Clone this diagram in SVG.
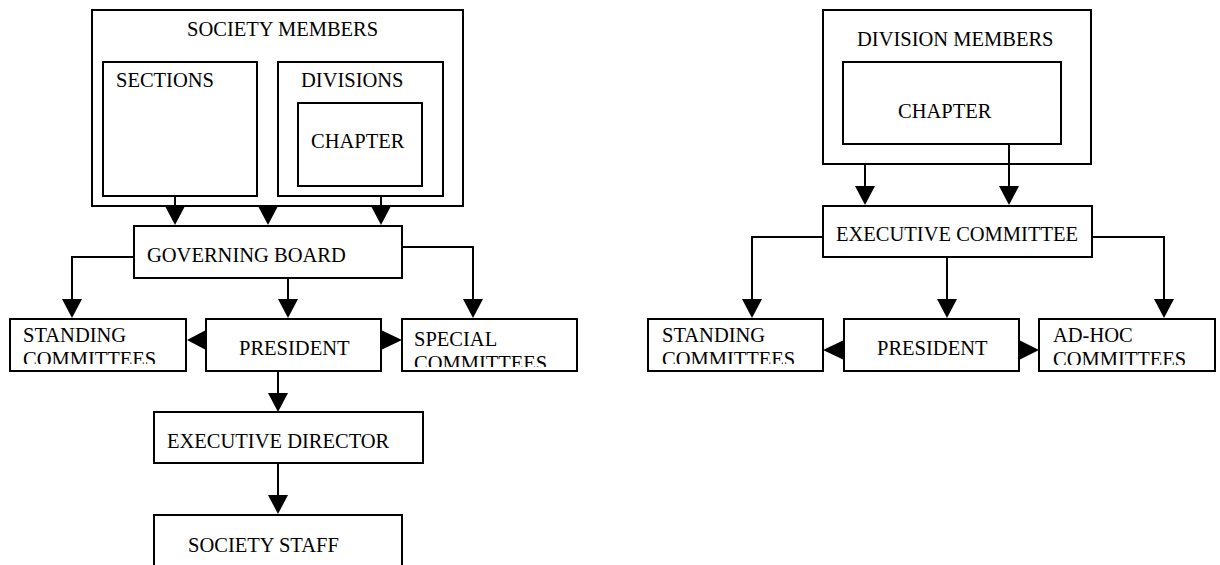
<svg xmlns="http://www.w3.org/2000/svg" width="1220" height="565" viewBox="0 0 1220 565">
<style>
.box{fill:#fff;stroke:#000;stroke-width:2}
.t{font-family:"Liberation Serif","Times New Roman",serif;font-size:20.5px;fill:#000}
.c{fill:none;stroke:#000;stroke-width:2}
.h{fill:#000;stroke:none}
</style>
<defs>
<marker id="ah" viewBox="0 0 19 20" refX="0" refY="10" markerWidth="19" markerHeight="20" markerUnits="userSpaceOnUse" orient="auto">
<path d="M0,0 L19,10 L0,20 z" fill="#000"/>
</marker>
<clipPath id="clipL1"><rect x="10" y="319" width="177" height="45"/></clipPath>
<clipPath id="clipL3"><rect x="402" y="319" width="176" height="48"/></clipPath>
<clipPath id="clipR1"><rect x="648" y="319" width="176" height="45"/></clipPath>
<clipPath id="clipR3"><rect x="1039" y="319" width="177" height="46"/></clipPath>
</defs>

<g id="society-members">
<rect class="box" x="92" y="10" width="371" height="196"/>
<text class="t" x="187" y="36">SOCIETY MEMBERS</text>
</g>
<g id="sections">
<rect class="box" x="103" y="62" width="154" height="134"/>
<text class="t" x="116" y="87">SECTIONS</text>
</g>
<g id="divisions">
<rect class="box" x="278" y="62" width="165" height="134"/>
<text class="t" x="301" y="87">DIVISIONS</text>
</g>
<g id="chapter-left">
<rect class="box" x="298" y="103" width="124" height="83"/>
<text class="t" x="311" y="148">CHAPTER</text>
</g>
<g id="governing-board">
<rect class="box" x="134" y="226" width="268" height="52"/>
<text class="t" x="147" y="262">GOVERNING BOARD</text>
</g>
<g id="standing-left">
<rect class="box" x="10" y="319" width="176" height="52"/>
<g clip-path="url(#clipL1)">
<text class="t" x="23" y="342">STANDING</text>
<text class="t" x="23" y="366">COMMITTEES</text>
</g>
</g>
<g id="president-left">
<rect class="box" x="206" y="319" width="175" height="52"/>
<text class="t" x="239" y="355">PRESIDENT</text>
</g>
<g id="special-committees">
<rect class="box" x="402" y="319" width="175" height="52"/>
<g clip-path="url(#clipL3)">
<text class="t" x="414" y="346">SPECIAL</text>
<text class="t" x="414" y="370">COMMITTEES</text>
</g>
</g>
<g id="executive-director">
<rect class="box" x="154" y="412" width="269" height="51"/>
<text class="t" x="167" y="448">EXECUTIVE DIRECTOR</text>
</g>
<g id="society-staff">
<rect class="box" x="154" y="515" width="248" height="60"/>
<text class="t" x="188" y="552">SOCIETY STAFF</text>
</g>

<g id="division-members">
<rect class="box" x="823" y="10" width="268" height="154"/>
<text class="t" x="857" y="46">DIVISION MEMBERS</text>
</g>
<g id="chapter-right">
<rect class="box" x="843" y="62" width="218" height="82"/>
<text class="t" x="898" y="118">CHAPTER</text>
</g>
<g id="executive-committee">
<rect class="box" x="823" y="206" width="269" height="51"/>
<text class="t" x="836" y="241">EXECUTIVE COMMITTEE</text>
</g>
<g id="standing-right">
<rect class="box" x="648" y="319" width="175" height="52"/>
<g clip-path="url(#clipR1)">
<text class="t" x="662" y="342">STANDING</text>
<text class="t" x="662" y="366">COMMITTEES</text>
</g>
</g>
<g id="president-right">
<rect class="box" x="844" y="319" width="175" height="52"/>
<text class="t" x="877" y="355">PRESIDENT</text>
</g>
<g id="adhoc-committees">
<rect class="box" x="1039" y="319" width="176" height="52"/>
<g clip-path="url(#clipR3)">
<text class="t" x="1053" y="342">AD-HOC</text>
<text class="t" x="1053" y="366">COMMITTEES</text>
</g>
</g>

<g id="connectors">
<path class="c" d="M175,196 V206" marker-end="url(#ah)"/>
<path class="c" d="M268,205 V206" marker-end="url(#ah)"/>
<path class="c" d="M381,196 V206" marker-end="url(#ah)"/>
<path class="c" d="M134,257 H72 V299" marker-end="url(#ah)"/>
<path class="c" d="M288,278 V299" marker-end="url(#ah)"/>
<path class="c" d="M402,247 H473 V299" marker-end="url(#ah)"/>
<polygon class="h" points="206,330 206,350 187,340"/>
<polygon class="h" points="381,330 381,350 402,340"/>
<path class="c" d="M278,371 V393" marker-end="url(#ah)"/>
<path class="c" d="M278,463 V495" marker-end="url(#ah)"/>

<path class="c" d="M865,164 V186" marker-end="url(#ah)"/>
<path class="c" d="M1009,144 V186" marker-end="url(#ah)"/>
<path class="c" d="M823,237 H752 V299" marker-end="url(#ah)"/>
<path class="c" d="M947,257 V299" marker-end="url(#ah)"/>
<path class="c" d="M1092,237 H1164 V299" marker-end="url(#ah)"/>
<polygon class="h" points="844,340 844,360 823,350"/>
<polygon class="h" points="1019,340 1019,360 1039,350"/>
</g>
</svg>
